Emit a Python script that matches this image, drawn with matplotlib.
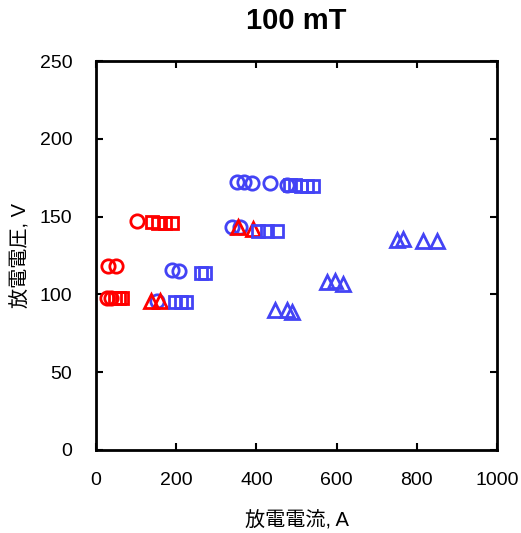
import matplotlib
matplotlib.use("Agg")
import matplotlib.pyplot as plt

plt.rcParams['font.family'] = ['Liberation Sans', 'Noto Sans CJK JP', 'DejaVu Sans']

# Data (discharge current A, discharge voltage V)
red_circle_x = [28, 38, 31, 50, 101]
red_circle_y = [98, 98, 118, 118, 147]
red_square_x = [48, 58, 65, 139, 155, 172, 189]
red_square_y = [98, 98, 98, 146.5, 146, 146, 146]
red_triangle_x = [138, 160, 355, 392]
red_triangle_y = [95.5, 95.5, 143, 142]

blue_circle_x = [151, 189, 207, 338, 359, 351, 368, 388, 434, 476]
blue_circle_y = [96, 115.5, 115, 143, 143, 172, 172, 171.5, 171.5, 170.5]
blue_square_x = [197, 212, 225, 262, 272, 405, 426, 451, 484, 497, 512, 527, 540]
blue_square_y = [95, 95, 95, 114, 114, 141, 141, 140.5, 170, 170, 169.5, 169.5, 169.5]
blue_triangle_x = [446, 476, 488, 575, 596, 617, 750, 766, 816, 850]
blue_triangle_y = [90, 90, 89, 108, 108.5, 107, 135, 135.5, 134.5, 134.5]

RED = '#FF0000'
BLUE = '#4343F5'

fig = plt.figure(figsize=(5.21, 5.33), dpi=100)
ax = fig.add_axes([96/521, 1-450/533, (497-96)/521, (450-61)/533])

ms = 9.6
mew = 2.0
ax.plot(blue_circle_x, blue_circle_y, 'o', mfc='none', mec=BLUE, ms=ms, mew=mew, ls='none')
ax.plot(red_circle_x, red_circle_y, 'o', mfc='none', mec=RED, ms=ms, mew=mew, ls='none')
ax.plot(red_square_x, red_square_y, 's', mfc='none', mec=RED, ms=ms-0.4, mew=mew, ls='none')
ax.plot(red_triangle_x, red_triangle_y, '^', mfc='none', mec=RED, ms=ms+1, mew=mew, ls='none')
ax.plot(blue_square_x, blue_square_y, 's', mfc='none', mec=BLUE, ms=ms-0.4, mew=mew, ls='none')
ax.plot(blue_triangle_x, blue_triangle_y, '^', mfc='none', mec=BLUE, ms=ms+1, mew=mew, ls='none')

ax.set_xlim(0, 1000)
ax.set_ylim(0, 250)
ax.set_xticks([0, 200, 400, 600, 800, 1000])
ax.set_yticks([0, 50, 100, 150, 200, 250])
ax.tick_params(direction='in', top=True, right=True, length=5, width=1.5,
               labelsize=14)
ax.tick_params(axis='x', pad=16)
ax.tick_params(axis='y', pad=17)
for s in ax.spines.values():
    s.set_linewidth(2)

ax.set_xlabel('放電電流, A', fontsize=14.5, labelpad=16)
ax.set_ylabel('放電電圧, V', fontsize=14.5, labelpad=7)
ax.set_title('100 mT', fontsize=21, fontweight='bold', pad=23)

fig.savefig('out.png', dpi=100)
